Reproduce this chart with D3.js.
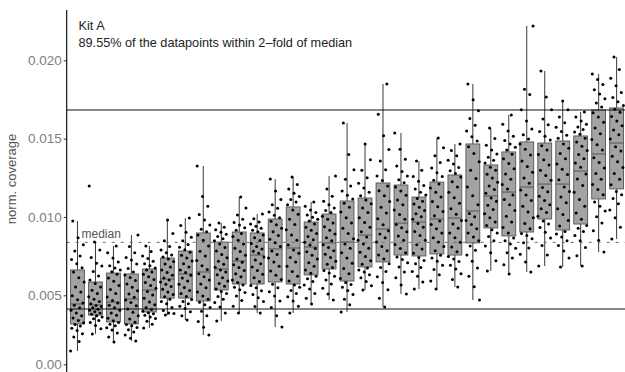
<!DOCTYPE html>
<html><head><meta charset="utf-8">
<script src="https://cdn.jsdelivr.net/npm/d3@7"></script>
<style>html,body{margin:0;padding:0;background:#fff;} svg{display:block;font-family:"Liberation Sans",Arial,sans-serif;}</style>
</head><body><svg id="c" width="625" height="372"></svg>
<script>
const samples = ["S01","S02","S03","S04","S05","S06","S07","S08","S09","S10","S11","S12","S13","S14","S15","S16","S17","S18","S19","S20","S21","S22","S23","S24","S25","S26","S27","S28","S29","S30","S31"];
const whiskerLow  = [.00096,.00220,.00162,.00169,.00263,.00357,.00321,.00212,.00314,.00372,.00372,.00270,.00372,.00437,.00466,.00379,.00534,.00415,.00508,.00540,.00540,.00553,.00466,.00655,.00636,.00649,.00687,.00681,.00687,.00776,.00859];
const q1          = [.00292,.00357,.00307,.00292,.00379,.00480,.00480,.00459,.00534,.00572,.00572,.00585,.00572,.00630,.00668,.00591,.00681,.00713,.00757,.00751,.00764,.00757,.00834,.00930,.00879,.00904,.00987,.00917,.00955,.01115,.01179];
const median      = [.00437,.00430,.00451,.00473,.00534,.00604,.00636,.00649,.00668,.00719,.00757,.00796,.00802,.00808,.00834,.00840,.00885,.00923,.00961,.00968,.00987,.00993,.01038,.01134,.01159,.01191,.01210,.01210,.01293,.01402,.01472];
const q3          = [.00662,.00585,.00642,.00636,.00668,.00738,.00783,.00898,.00840,.00904,.00898,.00987,.01064,.00968,.01019,.01102,.01121,.01217,.01204,.01127,.01223,.01268,.01466,.01332,.01415,.01479,.01472,.01485,.01517,.01683,.01696];
const whiskerHigh = [.00974,.00840,.00815,.00885,.00815,.00981,.00993,.01325,.00961,.01127,.01019,.01242,.01255,.01096,.01262,.01600,.01466,.01849,.01536,.01357,.01504,.01466,.01849,.01568,.01651,.02219,.01932,.01740,.01670,.01913,.02021];
const points = [
[.00096,.00165,.00198,.00221,.00245,.00262,.00278,.00288,.00301,.00318,.00335,.00352,.00371,.00392,.00410,.00428,.00445,.00468,.00497,.00521,.00553,.00585,.00612,.00648,.00676,.00702,.00728,.00751,.00783,.00822,.00868,.00974],
[.00220,.00258,.00281,.00302,.00318,.00330,.00342,.00351,.00362,.00371,.00380,.00391,.00399,.00409,.00418,.00426,.00438,.00455,.00472,.00490,.00511,.00532,.00553,.00576,.00598,.00623,.00652,.00687,.00705,.00741,.00789,.00840,.01198],
[.00162,.00198,.00226,.00248,.00265,.00279,.00291,.00302,.00315,.00334,.00355,.00372,.00391,.00410,.00428,.00445,.00462,.00488,.00511,.00537,.00562,.00589,.00611,.00635,.00651,.00662,.00675,.00689,.00712,.00738,.00771,.00815],
[.00169,.00189,.00212,.00234,.00251,.00266,.00279,.00288,.00305,.00329,.00352,.00378,.00401,.00425,.00448,.00466,.00485,.00508,.00529,.00551,.00572,.00594,.00613,.00630,.00648,.00671,.00699,.00725,.00741,.00772,.00812,.00885],
[.00263,.00291,.00312,.00331,.00342,.00355,.00366,.00374,.00385,.00398,.00412,.00431,.00452,.00478,.00502,.00525,.00545,.00562,.00581,.00601,.00618,.00635,.00649,.00661,.00675,.00689,.00702,.00718,.00735,.00751,.00779,.00815],
[.00357,.00368,.00371,.00389,.00412,.00438,.00455,.00471,.00489,.00505,.00521,.00539,.00556,.00571,.00585,.00598,.00611,.00628,.00646,.00662,.00681,.00699,.00715,.00731,.00745,.00758,.00772,.00789,.00812,.00848,.00895,.00981],
[.00321,.00352,.00381,.00405,.00421,.00438,.00455,.00470,.00491,.00512,.00531,.00549,.00571,.00592,.00611,.00628,.00645,.00662,.00681,.00702,.00719,.00738,.00755,.00774,.00791,.00806,.00825,.00848,.00871,.00902,.00945,.00993],
[.00212,.00268,.00311,.00352,.00385,.00412,.00431,.00449,.00472,.00495,.00521,.00548,.00572,.00598,.00618,.00638,.00665,.00689,.00722,.00751,.00781,.00815,.00852,.00885,.00905,.00921,.00948,.00981,.01015,.01068,.01131,.01325],
[.00314,.00372,.00415,.00448,.00471,.00492,.00511,.00525,.00541,.00558,.00575,.00591,.00612,.00631,.00648,.00661,.00679,.00698,.00718,.00739,.00761,.00782,.00805,.00828,.00848,.00861,.00875,.00889,.00902,.00918,.00935,.00961],
[.00372,.00421,.00462,.00495,.00518,.00535,.00551,.00565,.00581,.00598,.00618,.00638,.00659,.00678,.00695,.00711,.00732,.00755,.00779,.00801,.00828,.00852,.00875,.00895,.00915,.00931,.00948,.00965,.00985,.01012,.01058,.01127],
[.00372,.00418,.00455,.00482,.00505,.00529,.00548,.00562,.00588,.00612,.00635,.00658,.00681,.00702,.00725,.00745,.00768,.00781,.00795,.00812,.00831,.00849,.00868,.00885,.00905,.00915,.00928,.00941,.00955,.00968,.00989,.01019],
[.00270,.00352,.00411,.00458,.00495,.00522,.00548,.00571,.00601,.00628,.00655,.00685,.00712,.00738,.00761,.00782,.00812,.00835,.00858,.00881,.00905,.00928,.00951,.00972,.00995,.01011,.01031,.01055,.01078,.01112,.01165,.01242],
[.00372,.00421,.00458,.00489,.00512,.00531,.00551,.00565,.00591,.00621,.00652,.00685,.00712,.00741,.00768,.00789,.00821,.00851,.00885,.00918,.00952,.00985,.01018,.01045,.01078,.01095,.01112,.01131,.01152,.01178,.01208,.01255],
[.00437,.00478,.00512,.00541,.00565,.00588,.00605,.00621,.00641,.00662,.00685,.00708,.00731,.00755,.00778,.00798,.00821,.00838,.00855,.00875,.00895,.00915,.00935,.00955,.00975,.00985,.00998,.01012,.01028,.01045,.01068,.01096],
[.00466,.00508,.00545,.00572,.00598,.00621,.00642,.00659,.00678,.00698,.00718,.00741,.00762,.00785,.00805,.00822,.00848,.00868,.00891,.00915,.00938,.00962,.00985,.01005,.01028,.01041,.01058,.01078,.01101,.01132,.01178,.01262],
[.00379,.00431,.00472,.00505,.00531,.00552,.00569,.00582,.00608,.00638,.00671,.00705,.00738,.00771,.00801,.00828,.00861,.00895,.00928,.00962,.00995,.01031,.01062,.01088,.01115,.01138,.01165,.01198,.01241,.01302,.01398,.01600],
[.00534,.00561,.00588,.00612,.00631,.00648,.00662,.00675,.00698,.00721,.00748,.00775,.00801,.00828,.00852,.00872,.00905,.00935,.00965,.00995,.01028,.01058,.01085,.01108,.01135,.01158,.01185,.01215,.01251,.01298,.01365,.01466],
[.00415,.00478,.00535,.00581,.00618,.00652,.00678,.00701,.00732,.00758,.00785,.00812,.00841,.00868,.00892,.00912,.00951,.00988,.01025,.01062,.01098,.01135,.01168,.01198,.01232,.01262,.01301,.01358,.01431,.01518,.01655,.01849],
[.00508,.00565,.00612,.00648,.00681,.00708,.00728,.00745,.00772,.00798,.00825,.00851,.00878,.00905,.00931,.00952,.00985,.01015,.01045,.01078,.01108,.01138,.01165,.01191,.01218,.01238,.01262,.01291,.01325,.01368,.01432,.01536],
[.00540,.00585,.00621,.00652,.00678,.00702,.00722,.00741,.00768,.00795,.00822,.00851,.00881,.00908,.00935,.00958,.00985,.01002,.01021,.01041,.01062,.01082,.01101,.01118,.01141,.01158,.01178,.01201,.01228,.01258,.01298,.01357],
[.00540,.00592,.00631,.00665,.00692,.00718,.00738,.00755,.00785,.00812,.00841,.00868,.00898,.00925,.00952,.00975,.01008,.01035,.01065,.01098,.01128,.01158,.01185,.01211,.01235,.01258,.01282,.01312,.01348,.01391,.01442,.01504],
[.00553,.00601,.00638,.00668,.00692,.00715,.00732,.00748,.00778,.00808,.00838,.00868,.00898,.00928,.00955,.00978,.01018,.01052,.01088,.01122,.01158,.01192,.01225,.01255,.01278,.01295,.01315,.01338,.01362,.01391,.01425,.01466],
[.00466,.00555,.00622,.00675,.00718,.00758,.00788,.00815,.00848,.00872,.00898,.00925,.00952,.00978,.01002,.01022,.01078,.01135,.01191,.01245,.01298,.01352,.01405,.01448,.01485,.01512,.01548,.01585,.01628,.01678,.01748,.01849],
[.00655,.00721,.00772,.00815,.00848,.00875,.00898,.00918,.00945,.00968,.00995,.01021,.01048,.01075,.01101,.01121,.01152,.01175,.01198,.01222,.01248,.01272,.01298,.01318,.01345,.01362,.01381,.01402,.01428,.01458,.01501,.01568],
[.00636,.00695,.00738,.00772,.00801,.00828,.00848,.00865,.00898,.00932,.00968,.01005,.01041,.01078,.01112,.01141,.01178,.01208,.01241,.01275,.01308,.01341,.01372,.01401,.01428,.01445,.01465,.01488,.01515,.01548,.01592,.01651],
[.00649,.00712,.00762,.00802,.00835,.00861,.00882,.00895,.00925,.00958,.00995,.01032,.01068,.01105,.01141,.01172,.01215,.01248,.01285,.01322,.01358,.01395,.01432,.01465,.01498,.01525,.01561,.01612,.01685,.01782,.01815,.02219],
[.00687,.00758,.00818,.00865,.00902,.00932,.00955,.00975,.01005,.01028,.01052,.01078,.01105,.01132,.01161,.01188,.01235,.01265,.01298,.01331,.01365,.01398,.01428,.01455,.01492,.01515,.01545,.01588,.01625,.01685,.01765,.01932],
[.00681,.00738,.00782,.00818,.00848,.00872,.00892,.00908,.00942,.00978,.01015,.01052,.01091,.01128,.01162,.01192,.01238,.01271,.01305,.01338,.01372,.01405,.01438,.01465,.01502,.01521,.01545,.01572,.01601,.01638,.01685,.01740],
[.00687,.00752,.00805,.00848,.00882,.00908,.00928,.00945,.00985,.01025,.01068,.01112,.01158,.01201,.01242,.01275,.01318,.01345,.01372,.01398,.01425,.01452,.01478,.01502,.01528,.01542,.01558,.01575,.01592,.01612,.01638,.01670],
[.00776,.00852,.00912,.00962,.01001,.01038,.01068,.01095,.01142,.01175,.01208,.01241,.01278,.01312,.01348,.01378,.01428,.01461,.01495,.01531,.01568,.01605,.01638,.01665,.01702,.01728,.01755,.01785,.01812,.01845,.01878,.01913],
[.00859,.00935,.00995,.01045,.01085,.01118,.01142,.01162,.01205,.01241,.01278,.01315,.01352,.01388,.01421,.01448,.01498,.01525,.01555,.01582,.01612,.01641,.01668,.01688,.01712,.01735,.01762,.01795,.01838,.01885,.01942,.02021]
];
const refHalf = 0.00401, refMedian = 0.00838, refDouble = 0.01683;
const yTicks = [0, 0.005, 0.010, 0.015, 0.020];
const yTickLabels = ["0.00", "0.005", "0.010", "0.015", "0.020"];
const titleLine1 = "Kit A";
const titleLine2 = "89.55% of the datapoints within 2\u2013fold of median";
const medianLabel = "median";
const yTitle = "norm. coverage";

(function () {
const W = 625, H = 372, padL = 66.7, padT = 10;
const svg = d3.select("#c");
const x = d3.scalePoint().domain(samples).range([padL, 627.4]).padding(0.6);
const y = d3.scaleLinear().domain([0, 0.005, 0.020]).range([364.3, 295.3, 60.3]);
const bw = x.step() * 0.77;

const g = svg.append("g");
samples.forEach((s, i) => {
  const cx = x(s);
  g.append("line").attr("x1", cx).attr("x2", cx).attr("y1", y(whiskerHigh[i])).attr("y2", y(q3[i]))
    .attr("stroke", "#222").attr("stroke-width", 0.9);
  g.append("line").attr("x1", cx).attr("x2", cx).attr("y1", y(q1[i])).attr("y2", y(whiskerLow[i]))
    .attr("stroke", "#222").attr("stroke-width", 0.9);
  g.append("rect").attr("x", cx - bw / 2).attr("width", bw)
    .attr("y", y(q3[i])).attr("height", y(q1[i]) - y(q3[i]))
    .attr("fill", "#a3a3a3").attr("stroke", "#555").attr("stroke-width", 0.9);
  g.append("line").attr("x1", cx - bw / 2).attr("x2", cx + bw / 2).attr("y1", y(median[i])).attr("y2", y(median[i]))
    .attr("stroke", "#555").attr("stroke-width", 1);
});

svg.append("line").attr("x1", padL).attr("x2", W).attr("y1", y(refMedian)).attr("y2", y(refMedian))
  .attr("stroke", "#6a6a6a").attr("stroke-width", 1).attr("stroke-dasharray", "3,6");
[refHalf, refDouble].forEach(v => {
  svg.append("line").attr("x1", padL).attr("x2", W).attr("y1", y(v)).attr("y2", y(v))
    .attr("stroke", "#111").attr("stroke-width", 1.1);
});

const pg = svg.append("g");
samples.forEach((s, i) => {
  const cx = x(s);
  points[i].forEach((v, j) => {
    const f = (j * 0.6180339 + i * 0.2718) % 1;
    pg.append("circle").attr("cx", cx + (f - 0.5) * bw * 1.0).attr("cy", y(v)).attr("r", 1.5).attr("fill", "#000");
  });
});

const ax = svg.append("g").attr("transform", `translate(${padL},0)`)
  .call(d3.axisLeft(y).tickValues(yTicks).tickFormat((d, i) => yTickLabels[i]).tickSize(3).tickSizeOuter(0));
ax.select(".domain").remove();
ax.append("line").attr("x1", 0).attr("x2", 0).attr("y1", padT).attr("y2", H).attr("stroke", "#000").attr("stroke-width", 1.1);
ax.selectAll(".tick line").attr("stroke", "#333");
ax.selectAll(".tick text").attr("fill", "#808080").style("font-size", "13.5px")
  .style("font-family", '"Liberation Sans", Arial, sans-serif').attr("x", -5);

svg.append("text").attr("transform", "translate(16,179) rotate(-90)").attr("text-anchor", "middle")
  .attr("fill", "#555").style("font-size", "13px").text(yTitle);

svg.append("text").attr("x", 78.5).attr("y", 30).attr("fill", "#222").style("font-size", "12.7px").text(titleLine1);
svg.append("text").attr("x", 78.5).attr("y", 46.5).attr("fill", "#222").style("font-size", "12.7px").text(titleLine2);
svg.append("text").attr("x", 81.5).attr("y", 238).attr("fill", "#555").style("font-size", "12px").text(medianLabel);
})();
</script></body></html>
